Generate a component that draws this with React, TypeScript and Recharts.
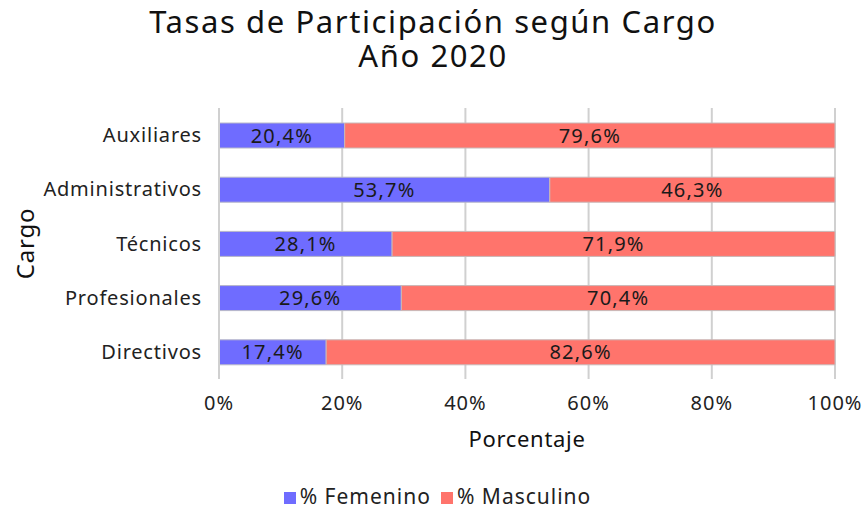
import { BarChart, Bar, XAxis, YAxis, CartesianGrid, Legend, LabelList } from "recharts";

const cargos = ["Auxiliares", "Administrativos", "Técnicos", "Profesionales", "Directivos"];
const femenino = [20.4, 53.7, 28.1, 29.6, 17.4];
const masculino = [79.6, 46.3, 71.9, 70.4, 82.6];
const xTicks = [0, 20, 40, 60, 80, 100];

const data = cargos.map((cargo, i) => ({ cargo, fem: femenino[i], mas: masculino[i] }));

const FONT = "'Noto Sans', sans-serif";
const fmt = (v: number) => v.toFixed(1).replace(".", ",") + "%";

const titleStyle = {
    position: "absolute" as const,
    left: 0,
    width: 866,
    height: 34,
    lineHeight: "34px",
    textAlign: "center" as const,
    fontSize: 31,
    letterSpacing: 1.6,
    color: "#111",
    whiteSpace: "nowrap" as const,
};

export default function App() {
    return (
        <div style={{ position: "absolute", left: 0, top: 0, width: 866, height: 510, background: "#fff", fontFamily: FONT }}>
            <div style={{ ...titleStyle, top: 4 }}>Tasas de Participación según Cargo</div>
            <div style={{ ...titleStyle, top: 38 }}>Año 2020</div>
            <BarChart
                width={866}
                height={510}
                data={data}
                layout="vertical"
                margin={{ top: 108, right: 31, bottom: 31, left: 0 }}
                barSize={25}
            >
                <CartesianGrid horizontal={false} stroke="#d0d0d0" strokeWidth={2} />
                <XAxis
                    type="number"
                    domain={[0, 100]}
                    ticks={xTicks}
                    tickFormatter={(v: number) => v + "%"}
                    axisLine={false}
                    tickLine={false}
                    tickMargin={11}
                    tick={{ fill: "#222", fontSize: 20, fontFamily: FONT, letterSpacing: 1 }}
                    label={{ value: "Porcentaje", position: "insideBottom", offset: 4, fill: "#111", fontSize: 22, fontFamily: FONT, letterSpacing: 0.7 }}
                    height={72}
                />
                <YAxis
                    type="category"
                    dataKey="cargo"
                    width={219}
                    axisLine={{ stroke: "#d0d0d0", strokeWidth: 2 }}
                    tickLine={false}
                    tickMargin={11}
                    tick={{ fill: "#222", fontSize: 20, fontFamily: FONT, letterSpacing: 0.8 }}
                    label={{
                        content: ({ viewBox }: any) => (
                            <text
                                x={24}
                                y={viewBox.y + viewBox.height / 2}
                                transform={`rotate(-90, 24, ${viewBox.y + viewBox.height / 2})`}
                                textAnchor="middle"
                                dominantBaseline="central"
                                fill="#111"
                                fontSize={24}
                                letterSpacing={0.8}
                                fontFamily={FONT}
                            >
                                Cargo
                            </text>
                        ),
                    }}
                />
                <Legend
                    verticalAlign="bottom"
                    iconType="square"
                    iconSize={12}
                    wrapperStyle={{ fontSize: 21, letterSpacing: 1, fontFamily: FONT, color: "#222", bottom: 0, left: 25 }}
                    formatter={(value: string) => <span style={{ color: "#222" }}>{value}</span>}
                />
                <Bar dataKey="fem" name="% Femenino" stackId="a" fill="#6f6cff" stroke="#b8b8c8" strokeWidth={1} isAnimationActive={false}>
                    <LabelList dataKey="fem" position="center" formatter={(v: any) => fmt(Number(v))} fill="#1a1a1a" fontSize={20} letterSpacing={1.2} fontFamily={FONT} />
                </Bar>
                <Bar dataKey="mas" name="% Masculino" stackId="a" fill="#ff746c" stroke="#c8b8b8" strokeWidth={1} isAnimationActive={false}>
                    <LabelList dataKey="mas" position="center" formatter={(v: any) => fmt(Number(v))} fill="#1a1a1a" fontSize={20} letterSpacing={1.2} fontFamily={FONT} />
                </Bar>
            </BarChart>
        </div>
    );
}
